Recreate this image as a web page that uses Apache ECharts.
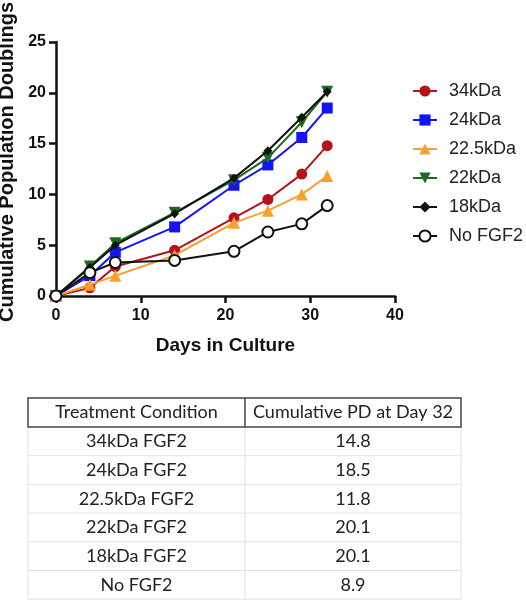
<!DOCTYPE html>
<html><head><meta charset="utf-8">
<script src="https://cdn.jsdelivr.net/npm/echarts@6/dist/echarts.min.js"></script>
<style>html,body{margin:0;padding:0;background:#fff;}#c{width:526px;height:600px;}</style>
</head><body><div id="c"></div>
<script>
var days = [0, 4, 7, 14, 21, 25, 29, 32];
var seriesNames = ['34kDa', '24kDa', '22.5kDa', '22kDa', '18kDa', 'No FGF2'];
var pd34 = [0, 0.8, 2.9, 4.5, 7.7, 9.5, 12.0, 14.8];
var pd24 = [0, 2.0, 4.3, 6.8, 10.9, 12.9, 15.6, 18.5];
var pd225 = [0, 1.1, 2.0, 4.0, 7.2, 8.4, 10.0, 11.8];
var pd22 = [0, 2.9, 5.2, 8.2, 11.4, 13.6, 17.1, 20.1];
var pd18 = [0, 2.8, 5.0, 8.1, 11.6, 14.3, 17.6, 20.1];
var pdNo = [0, 2.3, 3.3, 3.5, 4.4, 6.3, 7.1, 8.9];
var xTicks = [0, 10, 20, 30, 40];
var yTicks = [0, 5, 10, 15, 20, 25];
var tableHeader = ['Treatment Condition', 'Cumulative PD at Day 32'];
var tableConditions = ['34kDa FGF2', '24kDa FGF2', '22.5kDa FGF2', '22kDa FGF2', '18kDa FGF2', 'No FGF2'];
var tableValues = [14.8, 18.5, 11.8, 20.1, 20.1, 8.9];

var allValues = [pd34, pd24, pd225, pd22, pd18, pdNo];
var colors = ['#b3141b', '#1414f5', '#f7a030', '#1d6b1d', '#111111', '#111111'];
var symbols = ['circle', 'rect', 'triangle', 'path://M0,0 L10,0 L5,9 Z', 'diamond', 'emptyCircle'];
var sizes = [11, 11, 12, 12, 9, 11];

function pairs(v) { return days.map(function (d, i) { return [d, v[i]]; }); }

var drawOrder = [5, 2, 0, 1, 4, 3];
var series = drawOrder.map(function (k) {
  return {
    name: seriesNames[k], type: 'line', data: pairs(allValues[k]),
    symbol: symbols[k], symbolSize: sizes[k], showAllSymbol: true,
    lineStyle: { color: colors[k], width: 2 },
    itemStyle: { color: colors[k], borderColor: colors[k], borderWidth: k === 5 ? 2 : 0 },
    emphasis: { disabled: true }, animation: false, z: 2 + k
  };
});

// table graphic
var tLeft = 28, tRight = 461, tDiv = 245, tTop = 398, hH = 29, rH = 28.7;
var g = [];
var tFont = '18px Lato, "Open Sans", sans-serif';
var c1 = (tLeft + tDiv) / 2, c2 = (tDiv + tRight) / 2;
for (var r = 0; r < tableConditions.length; r++) {
  var y0 = tTop + hH + r * rH;
  g.push({ type: 'line', shape: { x1: tLeft, y1: y0 + rH, x2: tRight, y2: y0 + rH }, style: { stroke: '#e2e2e2', lineWidth: 1 }, silent: true });
  g.push({ type: 'text', x: c1, y: y0 + rH / 2, style: { text: tableConditions[r], font: tFont, fill: '#222', align: 'center', verticalAlign: 'middle' } });
  g.push({ type: 'text', x: c2, y: y0 + rH / 2, style: { text: tableValues[r].toFixed(1), font: tFont, fill: '#222', align: 'center', verticalAlign: 'middle' } });
}
var bodyBottom = tTop + hH + tableConditions.length * rH;
g.push({ type: 'line', shape: { x1: tLeft, y1: tTop + hH, x2: tLeft, y2: bodyBottom }, style: { stroke: '#e2e2e2', lineWidth: 1 } });
g.push({ type: 'line', shape: { x1: tRight, y1: tTop + hH, x2: tRight, y2: bodyBottom }, style: { stroke: '#e2e2e2', lineWidth: 1 } });
g.push({ type: 'line', shape: { x1: tDiv, y1: tTop + hH, x2: tDiv, y2: bodyBottom }, style: { stroke: '#e2e2e2', lineWidth: 1 } });
g.push({ type: 'rect', shape: { x: tLeft, y: tTop, width: tRight - tLeft, height: hH }, style: { fill: 'none', stroke: '#444', lineWidth: 1.5 } });
g.push({ type: 'line', shape: { x1: tDiv, y1: tTop, x2: tDiv, y2: tTop + hH }, style: { stroke: '#444', lineWidth: 1.5 } });
g.push({ type: 'text', x: c1, y: tTop + hH / 2, style: { text: tableHeader[0], font: tFont, fill: '#222', align: 'center', verticalAlign: 'middle' } });
g.push({ type: 'text', x: c2, y: tTop + hH / 2, style: { text: tableHeader[1], font: tFont, fill: '#222', align: 'center', verticalAlign: 'middle' } });

var chart = echarts.init(document.getElementById('c'), null, { renderer: 'canvas' });
chart.setOption({
  animation: false,
  backgroundColor: '#fff',
  grid: { left: 56, right: 131, top: 42, bottom: 304, containLabel: false, outerBoundsMode: 'none' },
  xAxis: {
    type: 'value', min: xTicks[0], max: xTicks[xTicks.length - 1], interval: xTicks[1] - xTicks[0],
    name: 'Days in Culture', nameLocation: 'middle', nameGap: 40,
    nameTextStyle: { fontFamily: 'Arial, "Liberation Sans"', fontWeight: 'bold', fontSize: 19, color: '#111' },
    axisLine: { show: true, lineStyle: { color: '#111', width: 2.5 } },
    axisTick: { show: true, inside: false, length: 7, lineStyle: { color: '#111', width: 2.5 } },
    axisLabel: { fontFamily: 'Arial, "Liberation Sans"', fontWeight: 'bold', fontSize: 16, color: '#111', margin: 12 },
    splitLine: { show: false }
  },
  yAxis: {
    type: 'value', min: yTicks[0], max: yTicks[yTicks.length - 1], interval: yTicks[1] - yTicks[0],
    name: 'Cumulative Population Doublings', nameLocation: 'middle', nameGap: 26,
    nameTextStyle: { fontFamily: 'Arial, "Liberation Sans"', fontWeight: 'bold', fontSize: 20, color: '#111', padding: [0, 0, 0, 14] },
    axisLine: { show: true, lineStyle: { color: '#111', width: 2.5 } },
    axisTick: { show: true, inside: false, length: 7, lineStyle: { color: '#111', width: 2.5 } },
    axisLabel: { fontFamily: 'Arial, "Liberation Sans"', fontWeight: 'bold', fontSize: 16, color: '#111', margin: 10 },
    splitLine: { show: false }
  },
  legend: {
    orient: 'vertical', left: 407, top: 77, itemGap: 11, itemWidth: 24, itemHeight: 14,
    data: seriesNames,
    textStyle: { fontFamily: 'Arial, "Liberation Sans"', fontSize: 18, color: '#222', padding: [0, 0, 0, 7] },
    selectedMode: false
  },
  series: series,
  graphic: g
});
</script></body></html>
